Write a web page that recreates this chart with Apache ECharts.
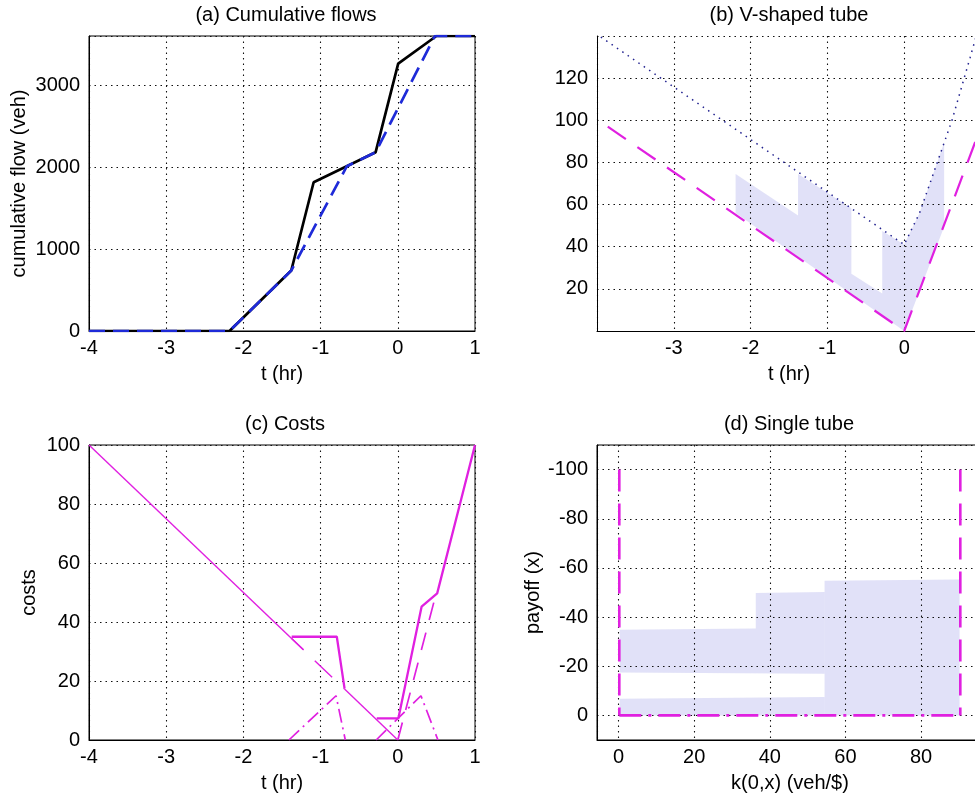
<!DOCTYPE html>
<html><head><meta charset="utf-8">
<script src="https://cdn.jsdelivr.net/npm/echarts@6/dist/echarts.min.js"></script>
<style>html,body{margin:0;padding:0;background:#fff}#c{width:975px;height:800px}</style>
</head><body><div id="c"></div>
<script>
// ---------- data ----------
// (a) cumulative flows [t (hr), veh]
const flowArrivals = [[-4,0],[-2.18,0],[-1.38,738],[-1.09,1815],[-0.287,2182],[0.005,3262],[0.5,3600],[1,3600]];
const flowDepartures = [[-4,0],[-2.18,0],[-1.38,738],[-0.66,2011],[-0.287,2182],[0.48,3600],[1,3600]];
// (b) V-shaped tube
const vLower = [[-3.86,97],[0,0],[1,97]];
const vUpper = [[-3.95,139.5],[0,41],[0.2,56],[0.62,99.7],[0.857,129.6],[0.93,139]];
const tubePoly = [[-2.195,74.5],[-1.382,54.8],[-1.382,74.5],[-0.688,58.3],[-0.688,27.2],[-0.286,17.8],[-0.286,47.5],[0,41],[0.2,56],[0.52,89.4],[0.52,49.5],[0,0],[-2.195,56]];
// (c) costs
const costEarly = [[-4,100],[-1.22,30.5]];
const costTotal1 = [[-1.375,35],[-0.79,35],[-0.69,17.5]];
const costEarly2 = [[-0.69,17.25],[0,0]];
const costTotal2 = [[-0.273,7.3],[0.007,7.3],[0.308,45.2],[0.51,49.7],[1,100]];
const costSchedDash1 = [[-1.375,34.4],[-0.69,17.25]];
const costSchedDash2 = [[0,0],[0.5,50]];
const costTravel1 = [[-1.41,0],[-0.8,15],[-0.68,0]];
const costTravel2 = [[-0.28,0],[0.3,15],[0.52,0]];
// (d) single tube
const payoffPolys = [
  [[0.3,0],[0.3,-6.8],[54.5,-7.5],[54.5,0]],
  [[0.3,-17.5],[0.3,-34.8],[36.3,-35.4],[36.3,-49.8],[54.5,-50.2],[54.5,-16.9]],
  [[54.5,0],[54.5,-54.8],[90.2,-55.3],[90.2,0]]
];
const payoffLeft = [[0.2,-100],[0.2,0]];
const payoffRight = [[90.4,-100],[90.4,0]];
const payoffBase = [[0.2,0],[90.4,0]];
// text
const titles = ['(a) Cumulative flows','(b) V-shaped tube','(c) Costs','(d) Single tube'];
const xNames = ['t (hr)','t (hr)','t (hr)','k(0,x) (veh/$)'];
const yNames = ['cumulative flow (veh)','','costs','payoff (x)'];

// ---------- styling ----------
const FONT = 'Liberation Sans';
const MAG = '#e020e0';
const FILL = '#c4c4f2';
const GRIDDOT = {color:'#111', width:1.1, type:[1.5,4]};
const txt = {fontFamily:FONT, fontSize:20, color:'#000'};
const fmt = v => String(v);

function lab(o) { return Object.assign({formatter:fmt}, txt, o); }
function xAx(gi, o) {
  return Object.assign({
    type:'value', gridIndex:gi, name:xNames[gi], nameLocation:'middle', nameGap:33,
    nameTextStyle:txt, z:1,
    axisLine:{show:true, onZero:false, lineStyle:{color:'#000', width:1}},
    axisTick:{show:false},
    axisLabel:lab({margin:7}),
    splitLine:{show:true, lineStyle:GRIDDOT}
  }, o);
}
function yAx(gi, o) {
  return Object.assign({
    type:'value', gridIndex:gi, name:yNames[gi], nameLocation:'middle', nameGap:60,
    nameTextStyle:txt, z:1,
    axisLine:{show:true, onZero:false, lineStyle:{color:'#000', width:1}},
    axisTick:{show:false},
    axisLabel:lab({margin:9}),
    splitLine:{show:true, lineStyle:GRIDDOT}
  }, o);
}
function line(i, data, color, width, type, extra) {
  return Object.assign({type:'line', xAxisIndex:i, yAxisIndex:i, data, showSymbol:false, symbol:'none',
    clip:true, silent:true, animation:false, z:2,
    lineStyle:{color, width, type, cap:'butt'}}, extra || {});
}
function polys(i, list, color) {
  return {type:'custom', xAxisIndex:i, yAxisIndex:i, z:0, silent:true, clip:true, animation:false,
    data:list.map(p => [p[0][0], p[0][1]]),
    renderItem:(params, api) => ({type:'polygon',
      shape:{points:list[params.dataIndex].map(v => api.coord(v))},
      style:{fill:color, opacity:0.5}})};
}
const gridBase = {outerBoundsMode:'none', containLabel:false};

const chart = echarts.init(document.getElementById('c'), null, {renderer:'canvas'});
chart.setOption({
  backgroundColor:'#fff',
  animation:false,
  title:[
    {text:titles[0], left:281, top:0, textAlign:'center', textStyle:Object.assign({fontWeight:'normal'}, txt)},
    {text:titles[1], left:784, top:0, textAlign:'center', textStyle:Object.assign({fontWeight:'normal'}, txt)},
    {text:titles[2], left:280, top:409, textAlign:'center', textStyle:Object.assign({fontWeight:'normal'}, txt)},
    {text:titles[3], left:784, top:409, textAlign:'center', textStyle:Object.assign({fontWeight:'normal'}, txt)}
  ],
  grid:[
    Object.assign({left:89, top:36, width:386, height:295, show:true, borderColor:'#000', borderWidth:1, backgroundColor:'transparent'}, gridBase),
    Object.assign({left:597, top:36, width:384, height:295, show:false}, gridBase),
    Object.assign({left:89, top:445, width:386, height:295, show:true, borderColor:'#000', borderWidth:1, backgroundColor:'transparent'}, gridBase),
    Object.assign({left:597, top:445, width:386, height:295, show:true, borderColor:'#000', borderWidth:1, backgroundColor:'transparent'}, gridBase)
  ],
  xAxis:[
    xAx(0, {min:-4, max:1, interval:1}),
    xAx(1, {min:-4, max:1, interval:1, axisLabel:lab({margin:7, showMinLabel:false, showMaxLabel:false})}),
    xAx(2, {min:-4, max:1, interval:1}),
    xAx(3, {min:-5.7, max:96.4, minInterval:20, maxInterval:20, splitNumber:5,
      axisLabel:lab({margin:7, showMinLabel:false, showMaxLabel:false})})
  ],
  yAxis:[
    yAx(0, {min:0, max:3600, interval:1000, axisLabel:lab({margin:9, showMaxLabel:false})}),
    yAx(1, {min:0, max:140, interval:20, axisLabel:lab({margin:9, showMinLabel:false, showMaxLabel:false})}),
    yAx(2, {min:0, max:100, interval:20, nameGap:50}),
    yAx(3, {min:-110, max:10, inverse:true, minInterval:20, maxInterval:20, splitNumber:6, nameGap:54,
      axisLabel:lab({margin:9, showMinLabel:false, showMaxLabel:false})})
  ],
  series:[
    // (a)
    line(0, flowArrivals, '#000', 2.7, 'solid'),
    line(0, flowDepartures, '#1e2ad8', 2.7, [16,8]),
    // (b)
    polys(1, [tubePoly], FILL),
    line(1, vUpper, '#22228f', 1.5, [1.5,5]),
    line(1, vLower, MAG, 2.2, [22,14]),
    // (c)
    line(2, costEarly, MAG, 1.4, 'solid'),
    line(2, costEarly2, MAG, 1.4, 'solid'),
    line(2, costSchedDash1, MAG, 1.4, [24,16], {lineStyle:{color:MAG, width:1.4, type:[24,16], dashOffset:8}}),
    line(2, costSchedDash2, MAG, 1.7, [18,13]),
    line(2, costTravel1, MAG, 1.7, [14,5,2,5]),
    line(2, costTravel2, MAG, 1.7, [14,5,2,5]),
    line(2, costTotal1, MAG, 2.3, 'solid'),
    line(2, costTotal2, MAG, 2.3, 'solid'),
    // (d)
    polys(3, payoffPolys, FILL),
    line(3, payoffLeft, MAG, 2.6, [22,12]),
    line(3, payoffRight, MAG, 2.6, [22,12]),
    line(3, payoffBase, MAG, 2.6, [22,7,3,7])
  ]
});
</script></body></html>
